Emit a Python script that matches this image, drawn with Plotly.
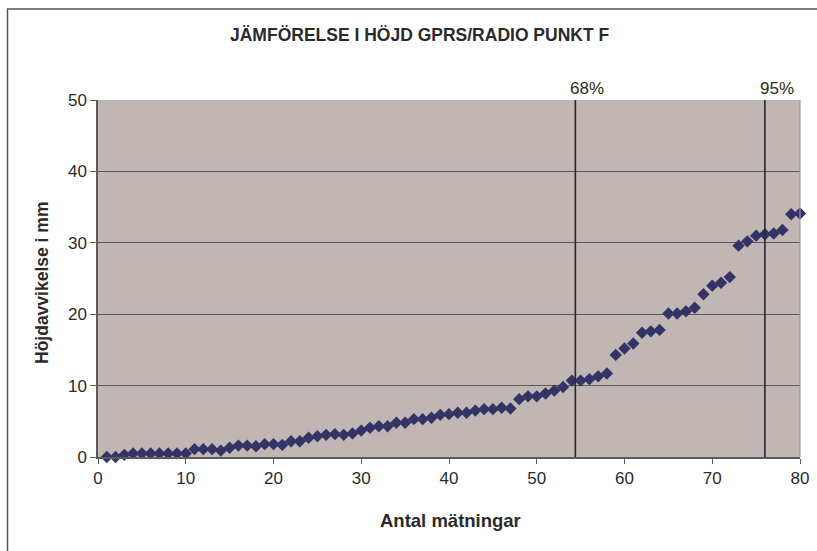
import plotly.graph_objects as go

# Height deviation (mm) per measurement, sorted ascending
hojd_mm = [
    0.0, 0.0, 0.3, 0.5, 0.5, 0.5, 0.5, 0.5, 0.5, 0.5,
    1.1, 1.1, 1.1, 0.9, 1.3, 1.6, 1.6, 1.5, 1.8, 1.8,
    1.7, 2.2, 2.2, 2.7, 2.9, 3.1, 3.2, 3.1, 3.3, 3.7,
    4.1, 4.3, 4.3, 4.8, 4.8, 5.3, 5.3, 5.5, 5.9, 6.0,
    6.2, 6.2, 6.5, 6.7, 6.7, 6.9, 6.8, 8.1, 8.5, 8.5,
    8.9, 9.3, 9.8, 10.7, 10.7, 10.9, 11.3, 11.7, 14.3, 15.2,
    15.9, 17.4, 17.6, 17.8, 20.1, 20.1, 20.4, 20.9, 22.8, 24.0,
    24.4, 25.2, 29.6, 30.2, 31.0, 31.2, 31.3, 31.8, 34.0, 34.1,
]
matning_nr = list(range(1, len(hojd_mm) + 1))

# Percentile markers (position along measurement axis, label)
percentil_pos = [54.4, 76.0]
percentil_text = ["68%", "95%"]

x_ticks = [0, 10, 20, 30, 40, 50, 60, 70, 80]
y_ticks = [0, 10, 20, 30, 40, 50]

FONT = "Liberation Sans, Arial, sans-serif"
TXT = "#2a2a2a"

fig = go.Figure()
fig.add_trace(go.Scatter(
    x=matning_nr, y=hojd_mm, mode="markers",
    marker=dict(symbol="diamond", size=9.5, color="#333366",
                line=dict(width=0)),
    showlegend=False, cliponaxis=False,
))

shapes = []
annotations = []
for pos, txt in zip(percentil_pos, percentil_text):
    shapes.append(dict(type="line", xref="x", yref="y", x0=pos, x1=pos,
                       y0=0, y1=50, line=dict(color="#2a2a2a", width=1.6),
                       layer="above"))
    annotations.append(dict(x=pos, y=50, xref="x", yref="y", text=txt,
                            showarrow=False, xanchor="center",
                            yanchor="bottom", xshift=12, yshift=0,
                            font=dict(family=FONT, size=17, color=TXT)))

# plot area right edge
shapes.append(dict(type="line", xref="paper", yref="paper", x0=1, x1=1,
                   y0=0, y1=1, line=dict(color="#9a9a9a", width=1.2)))
# outer chart frame
shapes.append(dict(type="rect", xref="paper", yref="paper",
                   x0=(8 - 98.5) / 702, x1=1.2, y0=-0.4,
                   y1=(457 - 9) / 357,
                   line=dict(color="#555555", width=1.5),
                   fillcolor="rgba(0,0,0,0)", layer="below"))

annotations += [
    dict(xref="paper", yref="paper", x=(420 - 98) / 702, y=(457 - 35) / 357,
         text="<b>JÄMFÖRELSE I HÖJD GPRS/RADIO PUNKT F</b>", showarrow=False,
         xanchor="center", yanchor="middle",
         font=dict(family=FONT, size=17.5, color=TXT)),
    dict(xref="paper", yref="paper", x=(42 - 98) / 702, y=(457 - 283) / 357,
         text="<b>Höjdavvikelse i mm</b>", showarrow=False, textangle=-90,
         xanchor="center", yanchor="middle",
         font=dict(family=FONT, size=17.5, color=TXT)),
    dict(xref="paper", yref="paper", x=(451 - 98) / 702, y=(457 - 520) / 357,
         text="<b>Antal mätningar</b>", showarrow=False,
         xanchor="center", yanchor="middle",
         font=dict(family=FONT, size=18.5, color=TXT)),
]

fig.update_layout(
    width=817, height=551,
    margin=dict(l=98, r=17, t=100, b=94, autoexpand=False),
    paper_bgcolor="white", plot_bgcolor="#C0B7B4",
    shapes=shapes, annotations=annotations,
    xaxis=dict(range=[0, 80], tickvals=x_ticks, showgrid=False,
               zeroline=False, showline=True, linecolor="#5a5a5a",
               linewidth=1.5, ticks="outside", ticklen=5, tickwidth=1,
               tickcolor="#5a5a5a",
               tickfont=dict(family=FONT, size=17, color=TXT)),
    yaxis=dict(range=[0, 50], tickvals=y_ticks, showgrid=True,
               gridcolor="#5c5858", gridwidth=1.2, zeroline=False,
               showline=True, linecolor="#5a5a5a", linewidth=1.5,
               ticks="outside", ticklen=6, tickwidth=1, tickcolor="#5a5a5a",
               tickfont=dict(family=FONT, size=17, color=TXT)),
)

fig.write_html("out.html")
